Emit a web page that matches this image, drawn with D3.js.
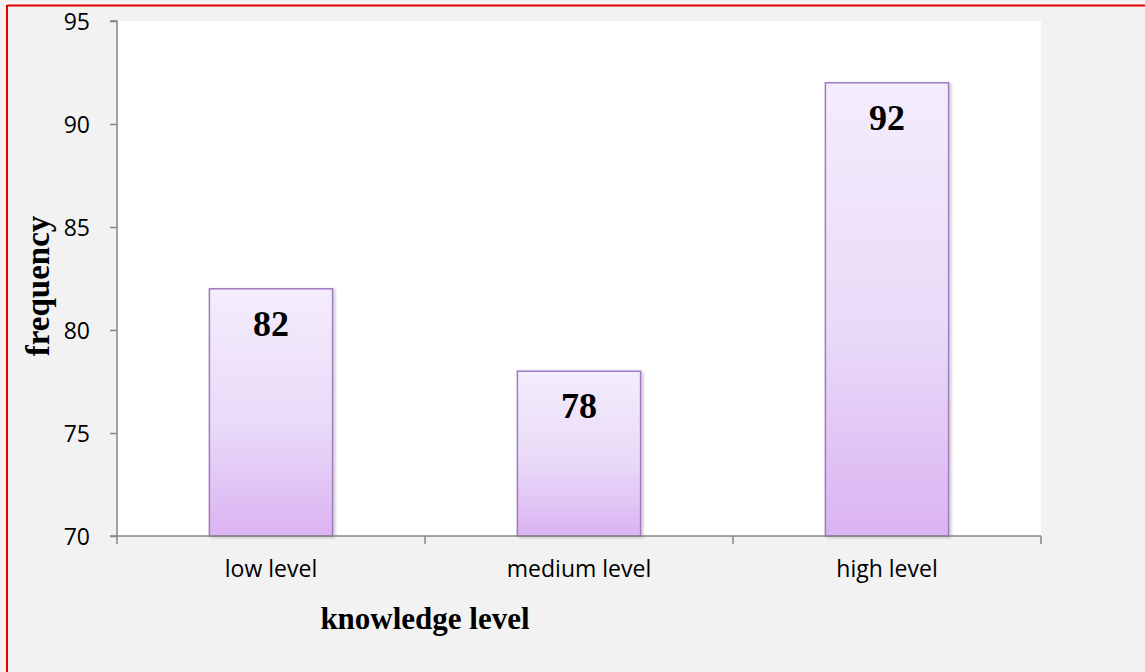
<!DOCTYPE html>
<html>
<head>
<meta charset="utf-8">
<script src="https://cdn.jsdelivr.net/npm/d3@7"></script>
<style>
  body { margin: 0; background: #f2f2f2; }
  svg { display: block; }
</style>
</head>
<body>
<div id="chart"></div>
<script>
/* data */
var categories = ["low level", "medium level", "high level"];
var frequency = [82, 78, 92];
var yTicks = [70, 75, 80, 85, 90, 95];

var width = 1145, height = 672;
var plot = {left: 117, top: 21, right: 1041, bottom: 536};

var svg = d3.select("#chart").append("svg")
	.attr("width", width).attr("height", height);

var defs = svg.append("defs");
var grad = defs.append("linearGradient")
	.attr("id", "barFill").attr("x1", 0).attr("y1", 0).attr("x2", 0).attr("y2", 1);
grad.append("stop").attr("offset", "0%").attr("stop-color", "#f4edfc");
grad.append("stop").attr("offset", "55%").attr("stop-color", "#e9daf8");
grad.append("stop").attr("offset", "100%").attr("stop-color", "#dbb3f2");

var shadow = defs.append("filter").attr("id", "shadow")
	.attr("x", "-10%").attr("y", "-10%").attr("width", "130%").attr("height", "130%");
shadow.append("feDropShadow").attr("dx", 2).attr("dy", 1)
	.attr("stdDeviation", 1.5).attr("flood-color", "#000").attr("flood-opacity", 0.2);

// background + red frame
svg.append("rect").attr("width", width).attr("height", height).attr("fill", "#f2f2f2");
svg.append("line").attr("x1", 7).attr("x2", width).attr("y1", 5.5).attr("y2", 5.5)
	.attr("stroke", "#e60000").attr("stroke-width", 2);
svg.append("line").attr("x1", 7).attr("x2", 7).attr("y1", 5).attr("y2", height)
	.attr("stroke", "#e60000").attr("stroke-width", 2);

// plot area
svg.append("rect")
	.attr("x", plot.left).attr("y", plot.top)
	.attr("width", plot.right - plot.left).attr("height", plot.bottom - plot.top)
	.attr("fill", "#ffffff");

var x = d3.scaleBand().domain(categories)
	.range([plot.left, plot.right]).paddingInner(0.6).paddingOuter(0.3);
var xOuter = d3.scaleBand().domain(categories).range([plot.left, plot.right]);
var y = d3.scaleLinear().domain([70, 95]).range([plot.bottom, plot.top]);

// bars
var bars = svg.append("g").selectAll("g").data(categories).enter().append("g");
bars.append("rect")
	.attr("x", function(d) { return x(d); })
	.attr("y", function(d, i) { return y(frequency[i]); })
	.attr("width", x.bandwidth())
	.attr("height", function(d, i) { return y(70) - y(frequency[i]); })
	.attr("fill", "url(#barFill)")
	.attr("stroke", "#a07ac2").attr("stroke-width", 1.5)
	.attr("filter", "url(#shadow)");
bars.append("text")
	.attr("x", function(d) { return x(d) + x.bandwidth() / 2; })
	.attr("y", function(d, i) { return y(frequency[i]) + 47; })
	.attr("text-anchor", "middle")
	.style("font-family", "'Liberation Serif', 'Times New Roman', serif")
	.style("font-weight", "bold").style("font-size", "36px")
	.text(function(d, i) { return frequency[i]; });

// y axis
var yAxis = svg.append("g").attr("transform", "translate(" + plot.left + ",0)")
	.call(d3.axisLeft(y).tickValues(yTicks).tickSize(7).tickPadding(20));
// x axis
var xAxis = svg.append("g").attr("transform", "translate(0," + plot.bottom + ")")
	.call(d3.axisBottom(xOuter).tickSize(0).tickPadding(25));
xAxis.select(".domain").remove();
xAxis.selectAll(".tick line").remove();
var bounds = categories.map(function(d) { return xOuter(d); }).concat([plot.right]);
xAxis.selectAll(".bound").data(bounds).enter().append("line")
	.attr("x1", function(d) { return d; }).attr("x2", function(d) { return d; })
	.attr("y1", 0).attr("y2", 8).attr("stroke", "#868686").attr("stroke-width", 1.5);
xAxis.append("line").attr("x1", plot.left).attr("x2", plot.right)
	.attr("stroke", "#868686").attr("stroke-width", 1.5);

yAxis.select(".domain").attr("stroke", "#868686").attr("stroke-width", 1.5)
	.attr("d", "M-7," + plot.top + "H0V" + plot.bottom + "H-7");
yAxis.selectAll(".tick line").attr("stroke", "#868686").attr("stroke-width", 1.5);
svg.selectAll(".tick text")
	.style("font-family", "'Open Sans', sans-serif").style("font-size", "23px")
	.attr("fill", "#000");
yAxis.selectAll(".tick text").attr("dy", "0.35em");

// axis titles
svg.append("text")
	.attr("x", 425).attr("y", 629)
	.attr("text-anchor", "middle")
	.style("font-family", "'Liberation Serif', 'Times New Roman', serif")
	.style("font-weight", "bold").style("font-size", "31px")
	.text("knowledge level");
svg.append("text")
	.attr("transform", "translate(49,286) rotate(-90)")
	.attr("text-anchor", "middle")
	.style("font-family", "'Liberation Serif', 'Times New Roman', serif")
	.style("font-weight", "bold").style("font-size", "33px")
	.text("frequency");
</script>
</body>
</html>
